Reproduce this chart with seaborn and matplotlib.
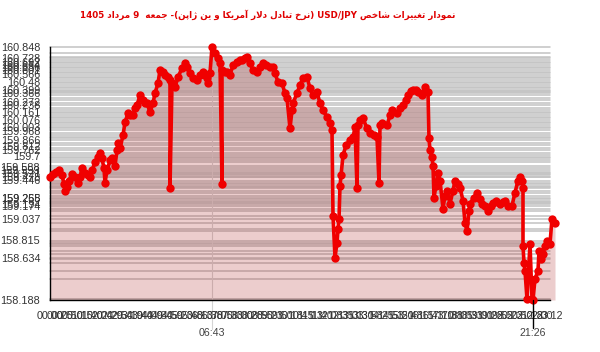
import numpy as np
import pandas as pd
import matplotlib
matplotlib.use("Agg")
import matplotlib.pyplot as plt
import seaborn as sns

# ---------------- data ----------------
title_text = "نمودار تغییرات شاخص USD/JPY (نرخ تبادل دلار آمریکا و ین ژاپن)- جمعه  9 مرداد 1405"

slots = [0, 3, 6, 9, 12, 14, 15, 17, 19, 22, 25, 28, 30, 32, 35, 38, 40, 42, 45, 48,
         50, 52, 54, 55, 57, 60, 62, 65, 67, 68, 70, 73, 75, 78, 80, 83, 85, 87, 90, 93,
         95, 97, 100, 103, 105, 108, 110, 113, 115, 118, 120, 120, 122, 125, 128, 132, 135, 137, 140, 143,
         147, 150, 153, 155, 157, 158, 160, 162, 165, 168, 170, 172, 172, 175, 177, 180, 183, 187, 190, 192,
         195, 197, 200, 203, 207, 210, 213, 216, 220, 223, 225, 228, 232, 235, 237, 240, 242, 243, 247, 250,
         253, 257, 260, 263, 267, 270, 273, 277, 280, 282, 283, 285, 287, 288, 289, 290, 291, 293, 296, 300,
         303, 305, 307, 308, 310, 313, 317, 320, 324, 327, 329, 330, 332, 337, 340, 342, 347, 350, 353, 356,
         358, 361, 363, 366, 368, 372, 375, 378, 379, 380, 382, 383, 384, 386, 388, 390, 393, 395, 397, 400,
         403, 405, 408, 410, 413, 415, 417, 419, 420, 424, 427, 430, 432, 435, 438, 441, 443, 446, 450, 453,
         455, 458, 462, 465, 468, 470, 472, 473, 473, 474, 475, 477, 480, 482, 483, 485, 488, 489, 491, 493,
         495, 497, 500, 502, 505]

prices = [159.476, 159.518, 159.539, 159.550, 159.497, 159.412, 159.338, 159.381, 159.444, 159.518,
          159.476, 159.423, 159.486, 159.571, 159.528, 159.497, 159.476, 159.550, 159.634, 159.687,
          159.729, 159.676, 159.571, 159.423, 159.550, 159.655, 159.676, 159.602, 159.761, 159.835,
          159.782, 159.919, 160.056, 160.151, 160.130, 160.130, 160.204, 160.236, 160.341, 160.288,
          160.257, 160.257, 160.162, 160.257, 160.362, 160.468, 160.605, 160.584, 160.552, 160.531,
          160.500, 159.370, 160.468, 160.426, 160.531, 160.626, 160.679, 160.637, 160.573, 160.521,
          160.500, 160.552, 160.584, 160.552, 160.521, 160.468, 160.573, 160.848, 160.785, 160.732,
          160.679, 159.412, 160.605, 160.584, 160.584, 160.552, 160.658, 160.689, 160.711, 160.711,
          160.732, 160.742, 160.679, 160.605, 160.584, 160.637, 160.679, 160.658, 160.637, 160.637,
          160.573, 160.478, 160.468, 160.362, 160.310, 159.993, 160.183, 160.257, 160.362, 160.447,
          160.521, 160.531, 160.415, 160.341, 160.373, 160.257, 160.183, 160.109, 160.046, 159.972,
          159.075, 158.634, 158.790, 158.937, 159.043, 159.391, 159.497, 159.708, 159.813, 159.866,
          159.898, 160.003, 159.370, 160.025, 160.077, 160.098, 159.993, 159.940, 159.919, 159.898,
          159.423, 160.025, 160.046, 160.025, 160.130, 160.183, 160.151, 160.204, 160.236, 160.288,
          160.341, 160.383, 160.394, 160.394, 160.373, 160.341, 160.426, 160.373, 159.887, 159.761,
          159.687, 159.602, 159.265, 159.391, 159.528, 159.444, 159.149, 159.286, 159.338, 159.201,
          159.338, 159.444, 159.412, 159.370, 159.233, 159.001, 158.916, 159.127, 159.201, 159.265,
          159.317, 159.254, 159.201, 159.180, 159.127, 159.180, 159.212, 159.233, 159.201, 159.222,
          159.233, 159.180, 159.180, 159.317, 159.444, 159.476, 159.444, 159.370, 158.758, 158.579,
          158.494, 158.197, 158.779, 158.199, 158.188, 158.410, 158.494, 158.705, 158.621, 158.674,
          158.758, 158.811, 158.779, 159.043, 159.001]

ytick_values = [158.188, 158.634, 158.815, 159.037, 159.174, 159.194, 159.258, 159.265,
                159.446, 159.478, 159.521, 159.553, 159.588, 159.7, 159.762, 159.812,
                159.866, 159.968, 160.003, 160.076, 160.161, 160.238, 160.272, 160.366,
                160.399, 160.48, 160.566, 160.601, 160.636, 160.664, 160.692, 160.728, 160.848]

xtick_slots = list(range(0, 501, 10))
xtick_labels = ["00:00", "00:25", "00:50", "01:15", "01:40", "02:04", "02:29", "02:54", "03:19", "03:44",
                "04:09", "04:34", "04:59", "05:23", "05:48", "06:13", "06:38", "07:05", "07:33", "08:00",
                "08:28", "08:55", "09:23", "09:50", "10:18", "10:45", "11:13", "11:40", "12:08", "12:35",
                "13:03", "13:30", "13:58", "14:25", "14:53", "15:20", "15:48", "16:15", "16:43", "17:10",
                "17:38", "18:05", "18:33", "19:00", "19:28", "19:55", "20:23", "20:50", "21:18", "22:00",
                "23:12"]
max_label = "06:43"
min_label = "21:26"

# ---------------- simple Persian shaping for display ----------------
FORMS = {
    'ا': ('\uFE8D', '\uFE8E', None, None),
    'آ': ('\uFE81', '\uFE82', None, None),
    'ب': ('\uFE8F', '\uFE90', '\uFE91', '\uFE92'),
    'پ': ('\uFB56', '\uFB57', '\uFB58', '\uFB59'),
    'ت': ('\uFE95', '\uFE96', '\uFE97', '\uFE98'),
    'ج': ('\uFE9D', '\uFE9E', '\uFE9F', '\uFEA0'),
    'خ': ('\uFEA5', '\uFEA6', '\uFEA7', '\uFEA8'),
    'د': ('\uFEA9', '\uFEAA', None, None),
    'ر': ('\uFEAD', '\uFEAE', None, None),
    'ز': ('\uFEAF', '\uFEB0', None, None),
    'ژ': ('\uFB8A', '\uFB8B', None, None),
    'ش': ('\uFEB5', '\uFEB6', '\uFEB7', '\uFEB8'),
    'ص': ('\uFEB9', '\uFEBA', '\uFEBB', '\uFEBC'),
    'ع': ('\uFEC9', '\uFECA', '\uFECB', '\uFECC'),
    'غ': ('\uFECD', '\uFECE', '\uFECF', '\uFED0'),
    'ک': ('\uFB8E', '\uFB8F', '\uFB90', '\uFB91'),
    'ل': ('\uFEDD', '\uFEDE', '\uFEDF', '\uFEE0'),
    'م': ('\uFEE1', '\uFEE2', '\uFEE3', '\uFEE4'),
    'ن': ('\uFEE5', '\uFEE6', '\uFEE7', '\uFEE8'),
    'ه': ('\uFEE9', '\uFEEA', '\uFEEB', '\uFEEC'),
    'و': ('\uFEED', '\uFEEE', None, None),
    'ی': ('\uFBFC', '\uFBFD', '\uFBFE', '\uFBFF'),
}
LAMALEF = {'ا': ('\uFEFB', '\uFEFC'), 'آ': ('\uFEF5', '\uFEF6')}


def _dual(ch):
    return ch in FORMS and FORMS[ch][2] is not None


def shape(word):
    out, i, n = [], 0, len(word)
    while i < n:
        c = word[i]
        if c not in FORMS:
            out.append(c)
            i += 1
            continue
        jp = i > 0 and _dual(word[i - 1])
        if c == 'ل' and i + 1 < n and word[i + 1] in LAMALEF:
            lig = LAMALEF[word[i + 1]]
            out.append(lig[1] if jp else lig[0])
            i += 2
            continue
        jn = _dual(c) and i + 1 < n and word[i + 1] in FORMS
        iso, fin, ini, med = FORMS[c]
        out.append(med if (jp and jn) else fin if jp else ini if jn else iso)
        i += 1
    return ''.join(out)


def visual(text):
    mirror = str.maketrans('()', ')(')
    toks = []
    for t in reversed(text.split(' ')):
        if any(ch in FORMS for ch in t):
            t = shape(t)[::-1].translate(mirror)
        toks.append(t)
    return ' '.join(toks)


# ---------------- plot ----------------
sns.set_style("white")
plt.rcParams['font.family'] = ['Liberation Sans', 'DejaVu Sans']

df = pd.DataFrame({"slot": slots, "price": prices})

fig = plt.figure(figsize=(6.0, 3.52), dpi=100)
ax = fig.add_axes([50 / 600, 52 / 352, 500 / 600, 253 / 352])

ymin, ymax = 158.188, 160.848
ax.set_xlim(0, 500)
ax.set_ylim(ymin, ymax)

# gridlines at data values
for v in sorted(set(prices)):
    ax.axhline(v, color='#c2c2c2', lw=1.1, zorder=0)

# area under line
ax.fill_between(df["slot"], df["price"], ymin, color='#b03030', alpha=0.24,
                lw=0, zorder=1, clip_on=False)

sns.lineplot(data=df, x="slot", y="price", estimator=None, sort=False,
             color='#f00000', linewidth=2.6, marker='o', markersize=6.0,
             markeredgewidth=0, ax=ax, zorder=3)
for ln in ax.lines:
    ln.set_clip_on(False)

# max / min time markers
imax = int(np.argmax(prices))
imin = int(np.argmin(prices))
xt = ax.get_xaxis_transform()
ax.plot([slots[imax], slots[imax]], [-0.115, 1.0], transform=xt, color='#d4d4d4',
        lw=0.8, zorder=0.5, clip_on=False)
ax.plot([slots[imin], slots[imin]], [-0.11, 0.0], transform=xt, color='black',
        lw=1.0, zorder=4, clip_on=False)
ax.text(slots[imax], -0.132, max_label, transform=xt, ha='center', va='center',
        fontsize=7.7, color='#444444')
ax.text(slots[imin], -0.132, min_label, transform=xt, ha='center', va='center',
        fontsize=7.7, color='#444444')

# ticks
ax.set_xticks(xtick_slots)
ax.set_xticklabels(xtick_labels)
ax.set_yticks(ytick_values)
ax.set_yticklabels([("%.3f" % v).rstrip('0').rstrip('.') for v in ytick_values])
ax.tick_params(axis='x', direction='out', length=5, width=1, color='black',
               labelsize=7.7, labelcolor='#333333', pad=3)
ax.tick_params(axis='y', direction='out', length=5, width=1, color='black',
               labelsize=7.8, labelcolor='#333333', pad=2)
ax.set_xlabel("")
ax.set_ylabel("")

for s in ['top', 'right']:
    ax.spines[s].set_visible(False)
for s in ['left', 'bottom']:
    ax.spines[s].set_color('black')
    ax.spines[s].set_linewidth(1.0)

# title, fitted to the reference width (~380 px)
ttl = fig.text(268 / 600, 1 - 15 / 352, visual(title_text), ha='center', va='center',
               fontsize=9.0, fontweight='bold', color='#e00000', family='DejaVu Sans')
renderer = fig.canvas.get_renderer()
w = ttl.get_window_extent(renderer).width
ttl.set_fontsize(9.0 * 380.0 / w)

fig.savefig("out.png", dpi=100)
